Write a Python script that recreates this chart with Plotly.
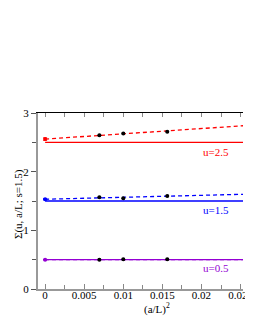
import plotly.graph_objects as go

# lattice spacings (a/L)^2 for L/a = 12, 10, 8
x_lat = [0.00694, 0.0100, 0.015625]
y_u25 = [2.62, 2.65, 2.68]
y_u15 = [1.563, 1.546, 1.585]
y_u05 = [0.50, 0.505, 0.505]
err_lat = [0.01, 0.01, 0.01]

# continuum extrapolations at (a/L)^2 = 0
cont_x = [0.0]
cont_u25 = [2.555]
cont_u15 = [1.53]
cont_u05 = [0.5]
cont_err = [0.02, 0.01, 0.005]

# fit endpoints (dashed) and reference values (solid)
fit_x = [0.0, 0.03]
fit_u25 = [2.555, 2.825]
fit_u15 = [1.53, 1.63]
fit_u05 = [0.5, 0.5]
ref_u25 = [2.5, 2.5]
ref_u15 = [1.5, 1.5]
ref_u05 = [0.5, 0.5]

labels = ["u=2.5", "u=1.5", "u=0.5"]
label_x = [0.0218, 0.0218, 0.0218]
label_y = [2.33, 1.35, 0.36]

RED, BLUE, PURP = "#ff0000", "#0000ff", "#9400d3"
FONT = "Liberation Serif, Times New Roman, serif"

fig = go.Figure()
series = [
    (ref_u25, fit_u25, cont_u25, y_u25, RED, cont_err[0]),
    (ref_u15, fit_u15, cont_u15, y_u15, BLUE, cont_err[1]),
    (ref_u05, fit_u05, cont_u05, y_u05, PURP, cont_err[2]),
]
for ref, fit, cont, ys, col, ce in series:
    fig.add_trace(go.Scatter(x=fit_x, y=ref, mode="lines",
                             line=dict(color=col, width=1.3), hoverinfo="skip"))
    fig.add_trace(go.Scatter(x=fit_x, y=fit, mode="lines",
                             line=dict(color=col, width=1.3, dash="4px,3px"), hoverinfo="skip"))
    fig.add_trace(go.Scatter(x=cont_x, y=cont, mode="markers",
                             marker=dict(color=col, size=4, symbol="circle"),
                             error_y=dict(type="data", array=[ce], color=col, thickness=1, width=2)))
    fig.add_trace(go.Scatter(x=x_lat, y=ys, mode="markers",
                             marker=dict(color="black", size=4, symbol="circle"),
                             error_y=dict(type="data", array=err_lat, color="black", thickness=1, width=1.5)))

for t, lx, ly, col in zip(labels, label_x, label_y, [RED, BLUE, PURP]):
    fig.add_annotation(x=lx, y=ly, text=t, showarrow=False, xref="x", yref="y",
                       xanchor="center", yanchor="middle",
                       font=dict(family=FONT, size=11, color=col))

PW, PH = 215, 176
fig.add_annotation(x=(163 - 38) / PW, y=(289 - 308) / PH, xref="paper", yref="paper",
                   xanchor="center", yanchor="middle",
                   text="(a/L)<sup>2</sup>", showarrow=False,
                   font=dict(family=FONT, size=11, color="black"))
fig.add_annotation(text="Σ(u, a/L; s=1.5)", textangle=-90, showarrow=False,
                   xref="paper", yref="paper", x=(17 - 38) / PW, y=(289 - 204) / PH,
                   xanchor="center", yanchor="middle",
                   font=dict(family=FONT, size=11, color="black"))

XR = [-0.00091, 0.02531]
fig.update_layout(
    width=245, height=319, showlegend=False,
    margin=dict(l=30, r=0, t=105, b=38),
    plot_bgcolor="white", paper_bgcolor="white",
    font=dict(family=FONT, size=11, color="black"),
    xaxis=dict(range=XR, showgrid=False, zeroline=False,
               tickmode="array", tickvals=[0, 0.005, 0.01, 0.015, 0.02, 0.025],
               ticktext=["0", "0.005", "0.01", "0.015", "0.02", "0.025"],
               ticks="inside", ticklen=5, tickcolor="#888", tickwidth=1,
               ticklabeloverflow="allow", ticklabelstandoff=-5,
               minor=dict(tickvals=[0.0025, 0.0075, 0.0125, 0.0175, 0.0225],
                          ticks="inside", ticklen=4, tickcolor="#888"),
               showline=True, linecolor="#999", linewidth=2,
               tickfont=dict(family=FONT, size=11)),
    xaxis2=dict(range=XR, overlaying="x", side="top", showgrid=False, zeroline=False,
                showticklabels=False, tickmode="array",
                tickvals=[0, 0.0025, 0.005, 0.0075, 0.01, 0.0125, 0.015, 0.0175, 0.02, 0.0225, 0.025],
                ticks="inside", ticklen=4, tickcolor="#888", showline=True,
                linecolor="black", linewidth=1),
    yaxis=dict(range=[0, 3], showgrid=False, zeroline=False,
               tickmode="array", tickvals=[0, 1, 2, 3], ticktext=["0", "1", "2", "3"],
               ticks="outside", ticklen=5, tickcolor="#555",
               minor=dict(tickvals=[0.5, 1.5, 2.5], ticks="outside", ticklen=4, tickcolor="#555"),
               showline=True, linecolor="#999", linewidth=2,
               tickfont=dict(family=FONT, size=11)),
)
# dummy trace to activate top axis
fig.add_trace(go.Scatter(x=[None], y=[None], xaxis="x2", showlegend=False))
fig.write_html("out.html")
